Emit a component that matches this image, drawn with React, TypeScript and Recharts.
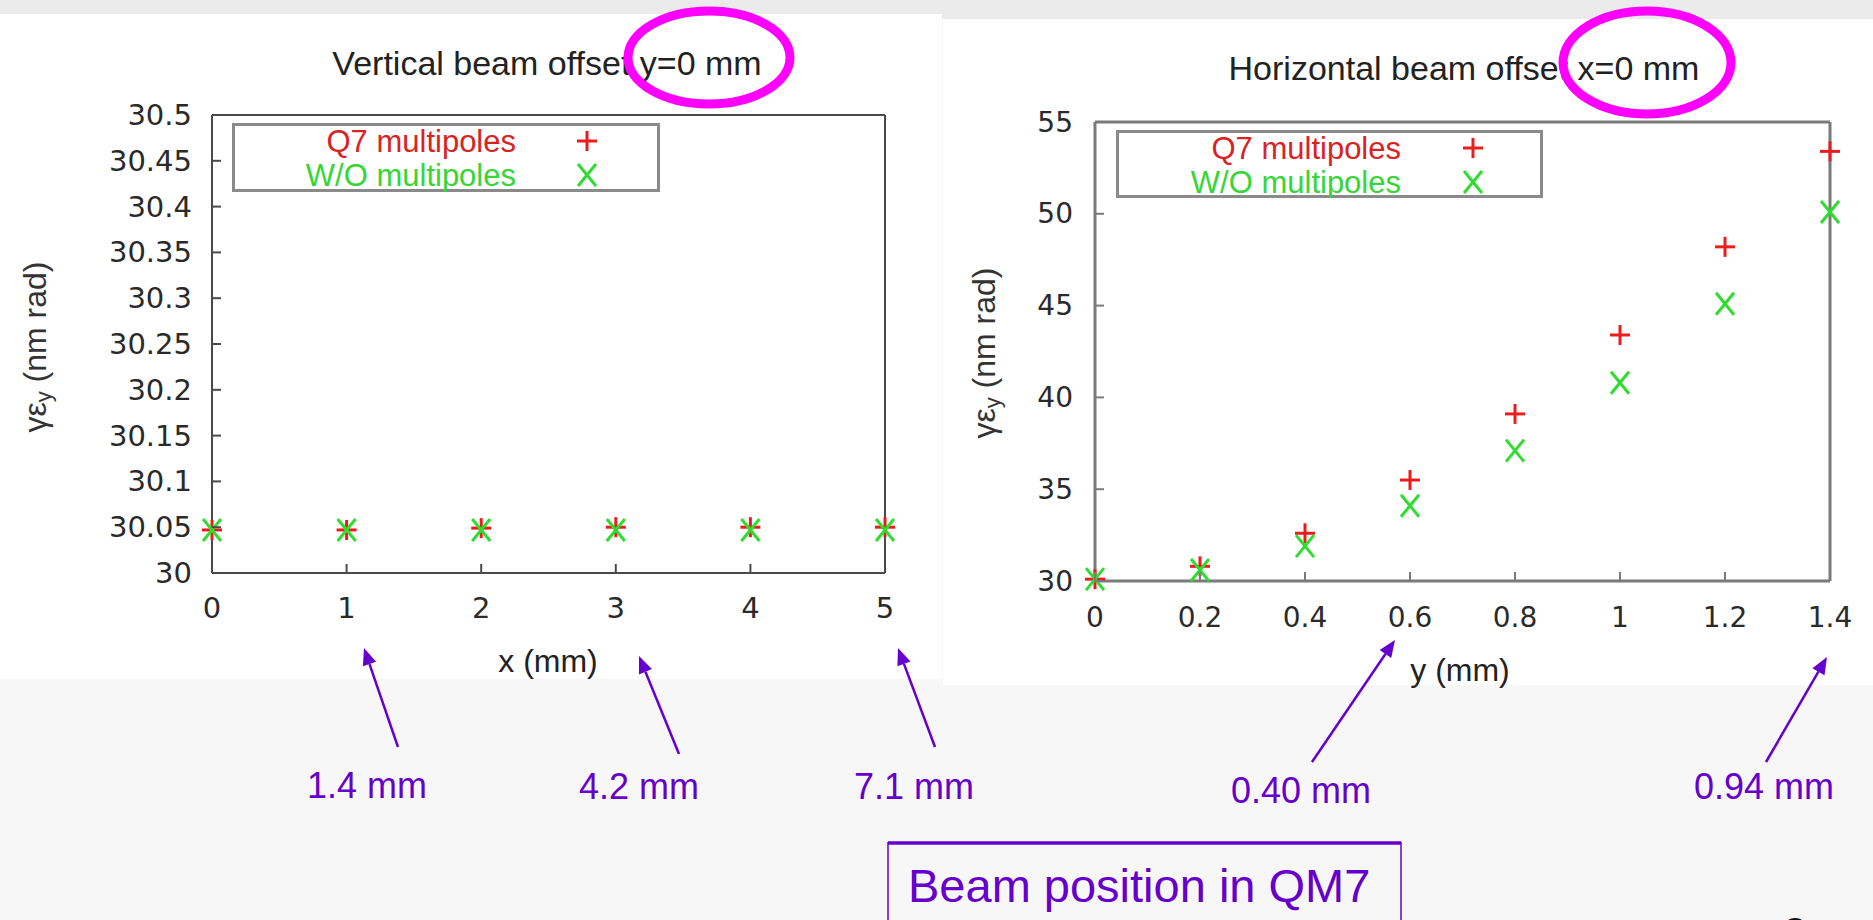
import React from 'react';
import { ScatterChart, Scatter, XAxis, YAxis, Legend } from 'recharts';

// ---------- data ----------
const vertOffsetX = [0, 1, 2, 3, 4, 5];
const vertQ7 = [30.047, 30.047, 30.049, 30.05, 30.05, 30.05];
const vertWO = [30.047, 30.047, 30.047, 30.047, 30.047, 30.047];

const horizOffsetY = [0, 0.2, 0.4, 0.6, 0.8, 1.0, 1.2, 1.4];
const horizQ7 = [30.1, 30.8, 32.6, 35.5, 39.1, 43.4, 48.2, 53.4];
const horizWO = [30.1, 30.6, 31.9, 34.1, 37.1, 40.8, 45.1, 50.1];

const leftXTicks = [0, 1, 2, 3, 4, 5];
const leftYTicks = [30, 30.05, 30.1, 30.15, 30.2, 30.25, 30.3, 30.35, 30.4, 30.45, 30.5];
const rightXTicks = [0, 0.2, 0.4, 0.6, 0.8, 1, 1.2, 1.4];
const rightYTicks = [30, 35, 40, 45, 50, 55];

const seriesNames = ['Q7 multipoles', 'W/O multipoles'];
const leftTitle = 'Vertical beam offset y=0 mm';
const rightTitle = 'Horizontal beam offset x=0 mm';
const annotationLabels = ['1.4 mm', '4.2 mm', '7.1 mm', '0.40 mm', '0.94 mm'];
const boxLabel = 'Beam position in QM7';

const leftQ7Data = vertOffsetX.map((x, i) => ({ x, y: vertQ7[i] }));
const leftWOData = vertOffsetX.map((x, i) => ({ x, y: vertWO[i] }));
const rightQ7Data = horizOffsetY.map((x, i) => ({ x, y: horizQ7[i] }));
const rightWOData = horizOffsetY.map((x, i) => ({ x, y: horizWO[i] }));

// ---------- styles ----------
const RED = '#ec1c1c';
const GREEN = '#2fdc2f';
const PURPLE = '#6600cc';
const TXT = '"Liberation Sans", Arial, Helvetica, sans-serif';
const TICKFONT = '"DejaVu Sans", "Liberation Sans", sans-serif';
const TICKCOL = '#2a2a2a';

const fmt = (v: number) => String(Number(v.toFixed(2)));

const PlusShape = (props: any) => {
  const { cx, cy } = props;
  if (cx == null || cy == null) return null;
  const s = 10;
  return (
    <g stroke={RED} strokeWidth={3}>
      <line x1={cx - s} x2={cx + s} y1={cy} y2={cy} />
      <line x1={cx} x2={cx} y1={cy - s} y2={cy + s} />
    </g>
  );
};

const CrossShape = (props: any) => {
  const { cx, cy } = props;
  if (cx == null || cy == null) return null;
  const sx = 9;
  const sy = 11;
  return (
    <g stroke={GREEN} strokeWidth={3}>
      <line x1={cx - sx} x2={cx + sx} y1={cy - sy} y2={cy + sy} />
      <line x1={cx - sx} x2={cx + sx} y1={cy + sy} y2={cy - sy} />
    </g>
  );
};

const makeLeftTick = (gap: number, len: number, col: string, size: number) => (props: any) => {
  const { x, y, payload } = props;
  return (
    <g>
      <line x1={x + gap} x2={x + gap + len} y1={y} y2={y} stroke={col} strokeWidth={2} />
      <text x={x} y={y} textAnchor="end" dominantBaseline="central" fontSize={size} fontFamily={TICKFONT} fill={TICKCOL}>
        {fmt(payload.value)}
      </text>
    </g>
  );
};

const makeBottomTick = (gap: number, len: number, col: string, size: number) => (props: any) => {
  const { x, y, payload } = props;
  return (
    <g>
      <line x1={x} x2={x} y1={y - gap} y2={y - gap - len} stroke={col} strokeWidth={2} />
      <text x={x} y={y} textAnchor="middle" dominantBaseline="central" fontSize={size} fontFamily={TICKFONT} fill={TICKCOL}>
        {fmt(payload.value)}
      </text>
    </g>
  );
};

const makeTopTick = (len: number, col: string) => (props: any) => {
  const { x, y } = props;
  return <line x1={x} x2={x} y1={y} y2={y + len} stroke={col} strokeWidth={2} />;
};

const makeRightTick = (len: number, col: string) => (props: any) => {
  const { x, y } = props;
  return <line x1={x} x2={x - len} y1={y} y2={y} stroke={col} strokeWidth={2} />;
};

const makeLegend = (w: number, h: number, textRight: number, markerX: number, rows: number[]) => (props: any) => {
  const items = props.payload || [];
  return (
    <svg width={w} height={h} style={{ display: 'block' }}>
      <rect x={1.5} y={1.5} width={w - 3} height={h - 3} fill="#fff" stroke="#8a8a8a" strokeWidth={3} />
      {items.map((it: any, i: number) => (
        <g key={i}>
          <text x={textRight} y={rows[i]} textAnchor="end" dominantBaseline="central" fontSize={31} fontFamily={TXT} fill={i === 0 ? '#d92323' : '#36d636'}>
            {it.value}
          </text>
          {i === 0 ? <PlusShape cx={markerX} cy={rows[i]} /> : <CrossShape cx={markerX} cy={rows[i]} />}
        </g>
      ))}
    </svg>
  );
};

// ---------- annotation helpers ----------
const Arrow = ({ x1, y1, x2, y2 }: { x1: number; y1: number; x2: number; y2: number }) => {
  const dx = x2 - x1;
  const dy = y2 - y1;
  const L = Math.hypot(dx, dy);
  const ux = dx / L;
  const uy = dy / L;
  const hl = 17;
  const hw = 7;
  const bx = x2 - ux * hl;
  const by = y2 - uy * hl;
  const p = `${x2},${y2} ${bx - uy * hw},${by + ux * hw} ${bx + uy * hw},${by - ux * hw}`;
  return (
    <g>
      <line x1={x1} y1={y1} x2={bx} y2={by} stroke={PURPLE} strokeWidth={2.5} />
      <polygon points={p} fill={PURPLE} />
    </g>
  );
};

const LeftChart = () => {
  const col = '#4a4a4a';
  const axisLine = { stroke: col, strokeWidth: 2 };
  return (
    <ScatterChart width={942} height={679} margin={{ top: 105, right: 0, bottom: 0, left: 0 }}>
      <XAxis xAxisId="b" type="number" dataKey="x" domain={[0, 5]} ticks={leftXTicks} interval={0} height={106}
        tickSize={0} tickMargin={35} tickLine={false} axisLine={axisLine} tick={makeBottomTick(35, 9, col, 29)} />
      <XAxis xAxisId="t" orientation="top" type="number" dataKey="x" domain={[0, 5]} ticks={leftXTicks} interval={0} height={10}
        tickSize={0} tickMargin={0} tickLine={false} axisLine={axisLine} tick={makeTopTick(9, col)} />
      <YAxis yAxisId="l" type="number" dataKey="y" domain={[30, 30.5]} ticks={leftYTicks} interval={0} width={212}
        tickSize={0} tickMargin={20} tickLine={false} axisLine={axisLine} tick={makeLeftTick(20, 9, col, 29)} />
      <YAxis yAxisId="r" orientation="right" type="number" dataKey="y" domain={[30, 30.5]} ticks={leftYTicks} interval={0} width={57}
        tickSize={0} tickMargin={0} tickLine={false} axisLine={axisLine} tick={makeRightTick(9, col)} />
      <Legend layout="vertical" align="center" verticalAlign="middle"
        wrapperStyle={{ left: 232, top: 123, width: 428, height: 69 }}
        content={makeLegend(428, 69, 284, 355, [18, 52])} />
      <Scatter name={seriesNames[0]} data={leftQ7Data} xAxisId="b" yAxisId="l" fill={RED} shape={PlusShape} isAnimationActive={false} />
      <Scatter name={seriesNames[1]} data={leftWOData} xAxisId="b" yAxisId="l" fill={GREEN} shape={CrossShape} isAnimationActive={false} />
    </ScatterChart>
  );
};

const RightChart = () => {
  const col = '#7a7a7a';
  const axisLine = { stroke: col, strokeWidth: 3 };
  return (
    <ScatterChart width={930} height={685} margin={{ top: 112, right: 0, bottom: 0, left: 0 }}>
      <XAxis xAxisId="b" type="number" dataKey="x" domain={[0, 1.4]} ticks={rightXTicks} interval={0} height={104}
        tickSize={0} tickMargin={36} tickLine={false} axisLine={axisLine} tick={makeBottomTick(36, 9, col, 28)} />
      <XAxis xAxisId="t" orientation="top" type="number" dataKey="x" domain={[0, 1.4]} ticks={rightXTicks} interval={0} height={10}
        tickSize={0} tickMargin={0} tickLine={false} axisLine={axisLine} tick={makeTopTick(9, col)} />
      <YAxis yAxisId="l" type="number" dataKey="y" domain={[30, 55]} ticks={rightYTicks} interval={0} width={152}
        tickSize={0} tickMargin={22} tickLine={false} axisLine={axisLine} tick={makeLeftTick(22, 9, col, 28)} />
      <YAxis yAxisId="r" orientation="right" type="number" dataKey="y" domain={[30, 55]} ticks={rightYTicks} interval={0} width={43}
        tickSize={0} tickMargin={0} tickLine={false} axisLine={axisLine} tick={makeRightTick(9, col)} />
      <Legend layout="vertical" align="center" verticalAlign="middle"
        wrapperStyle={{ left: 173, top: 130, width: 427, height: 68 }}
        content={makeLegend(427, 68, 285, 357, [18, 52])} />
      <Scatter name={seriesNames[0]} data={rightQ7Data} xAxisId="b" yAxisId="l" fill={RED} shape={PlusShape} isAnimationActive={false} />
      <Scatter name={seriesNames[1]} data={rightWOData} xAxisId="b" yAxisId="l" fill={GREEN} shape={CrossShape} isAnimationActive={false} />
    </ScatterChart>
  );
};

const YLabel = ({ cx, cy }: { cx: number; cy: number }) => (
  <text transform={`translate(${cx},${cy}) rotate(-90)`} textAnchor="middle" dominantBaseline="central"
    fontSize={32} fontFamily={TXT} fill="#333">
    γε<tspan dy={8} fontSize={22}>y</tspan><tspan dy={-8}> (nm rad)</tspan>
  </text>
);

export default function App() {
  return (
    <div style={{ position: 'absolute', left: 0, top: 0, width: 1873, height: 920, overflow: 'hidden', background: '#f7f7f7' }}>
      <div style={{ position: 'absolute', left: 0, top: 0, width: 1873, height: 19, background: '#ebebeb' }} />
      <div style={{ position: 'absolute', left: 0, top: 14, width: 942, height: 665, background: '#ffffff' }} />
      <div style={{ position: 'absolute', left: 943, top: 19, width: 930, height: 666, background: '#ffffff' }} />

      <div style={{ position: 'absolute', left: 0, top: 0 }}>
        <LeftChart />
      </div>
      <div style={{ position: 'absolute', left: 943, top: 0 }}>
        <RightChart />
      </div>

      <svg width={1873} height={920} style={{ position: 'absolute', left: 0, top: 0, pointerEvents: 'none' }}>
        <text x={547} y={75} textAnchor="middle" fontSize={34} fontFamily={TXT} fill="#222">{leftTitle}</text>
        <text x={1464} y={80} textAnchor="middle" fontSize={34} fontFamily={TXT} fill="#222">{rightTitle}</text>

        <text x={548} y={661} textAnchor="middle" dominantBaseline="central" fontSize={32} fontFamily={TXT} fill="#222">x (mm)</text>
        <text x={1460} y={670} textAnchor="middle" dominantBaseline="central" fontSize={32} fontFamily={TXT} fill="#222">y (mm)</text>
        <YLabel cx={35} cy={347} />
        <YLabel cx={984} cy={353} />

        <ellipse cx={709} cy={57.5} rx={81} ry={46.5} fill="none" stroke="#ff00ff" strokeWidth={9} />
        <ellipse cx={1647} cy={62.5} rx={84} ry={51.5} fill="none" stroke="#ff00ff" strokeWidth={9} />

        <Arrow x1={398} y1={747} x2={364} y2={648} />
        <Arrow x1={679} y1={754} x2={639} y2={656} />
        <Arrow x1={935} y1={747} x2={898} y2={648} />
        <Arrow x1={1312} y1={762} x2={1395} y2={640} />
        <Arrow x1={1766} y1={762} x2={1827} y2={657} />

        <text x={307} y={798} fontSize={36} fontFamily={TXT} fill={PURPLE}>{annotationLabels[0]}</text>
        <text x={579} y={799} fontSize={36} fontFamily={TXT} fill={PURPLE}>{annotationLabels[1]}</text>
        <text x={854} y={799} fontSize={36} fontFamily={TXT} fill={PURPLE}>{annotationLabels[2]}</text>
        <text x={1231} y={803} fontSize={36} fontFamily={TXT} fill={PURPLE}>{annotationLabels[3]}</text>
        <text x={1694} y={799} fontSize={36} fontFamily={TXT} fill={PURPLE}>{annotationLabels[4]}</text>

        <line x1={888} y1={843} x2={1401} y2={843} stroke={PURPLE} strokeWidth={3.5} />
        <line x1={888} y1={842} x2={888} y2={920} stroke={PURPLE} strokeWidth={1.5} />
        <line x1={1401} y1={842} x2={1401} y2={920} stroke={PURPLE} strokeWidth={1.5} />
        <text x={908} y={902} fontSize={47} fontFamily={TXT} fill={PURPLE}>{boxLabel}</text>

        <text x={1784} y={946} fontSize={40} fontFamily={TXT} fill="#111">8</text>
      </svg>
    </div>
  );
}
